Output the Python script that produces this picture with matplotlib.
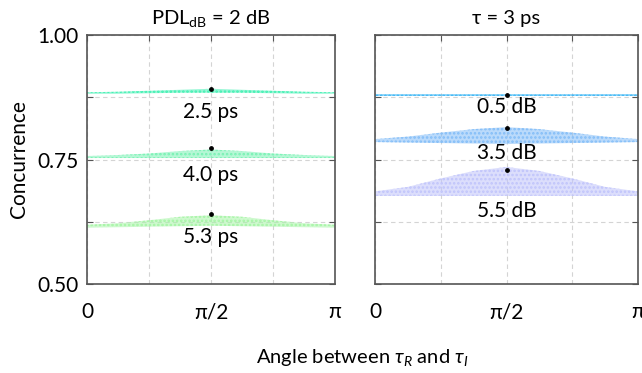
import numpy as np
import matplotlib
matplotlib.use('Agg')
import matplotlib.pyplot as plt

plt.rcParams['font.family'] = ['Lato', 'DejaVu Sans']
plt.rcParams['mathtext.fontset'] = 'custom'
plt.rcParams['mathtext.rm'] = 'Lato'
plt.rcParams['mathtext.it'] = 'Lato:italic'
plt.rcParams['hatch.linewidth'] = 1.2

# angle samples (0 .. pi in steps of pi/8)
angles = np.array([0, 1, 2, 3, 4, 5, 6, 7, 8]) * np.pi / 8

# left panel: PDL = 2 dB, different tau
tau_labels = ['2.5 ps', '4.0 ps', '5.3 ps']
tau_upper = [
    [0.885, 0.886, 0.888, 0.890, 0.892, 0.890, 0.888, 0.886, 0.885],
    [0.757, 0.759, 0.762, 0.767, 0.770, 0.767, 0.762, 0.759, 0.757],
    [0.619, 0.622, 0.628, 0.635, 0.638, 0.635, 0.628, 0.622, 0.619],
]
tau_lower = [
    [0.882, 0.882, 0.883, 0.884, 0.884, 0.884, 0.883, 0.882, 0.882],
    [0.753, 0.753, 0.753, 0.753, 0.753, 0.753, 0.753, 0.753, 0.753],
    [0.613, 0.614, 0.615, 0.616, 0.617, 0.616, 0.615, 0.614, 0.613],
]
tau_peak = [0.892, 0.773, 0.640]
tau_label_y = [0.845, 0.719, 0.594]
tau_colors = ['#3ff0b2', '#78f2b4', '#a6f5a6']

# right panel: tau = 3 ps, different PDL
pdl_labels = ['0.5 dB', '3.5 dB', '5.5 dB']
pdl_upper = [
    [0.8815, 0.8815, 0.8815, 0.8815, 0.8815, 0.8815, 0.8815, 0.8815, 0.8815],
    [0.791, 0.796, 0.804, 0.811, 0.815, 0.811, 0.804, 0.796, 0.791],
    [0.686, 0.695, 0.712, 0.727, 0.735, 0.727, 0.712, 0.695, 0.686],
]
pdl_lower = [
    [0.8785, 0.8785, 0.8785, 0.8785, 0.8785, 0.8785, 0.8785, 0.8785, 0.8785],
    [0.785, 0.784, 0.783, 0.782, 0.781, 0.782, 0.783, 0.784, 0.785],
    [0.677, 0.677, 0.677, 0.677, 0.677, 0.677, 0.677, 0.677, 0.677],
]
pdl_peak = [0.880, 0.813, 0.729]
pdl_label_y = [0.855, 0.763, 0.646]
pdl_colors = ['#3db6f5', '#82bdf8', '#c0c4fb']

fig = plt.figure(figsize=(6.42, 3.73), dpi=100)
ax1 = fig.add_axes([87/642, 1-284/373, 248/642, 249/373])
ax2 = fig.add_axes([375/642, 1-284/373, 263/642, 249/373])


def draw_panel(ax, upper, lower, peak, labels, label_y, colors, title):
	for i in range(len(upper)):
		ax.fill_between(angles, lower[i], upper[i], facecolor=colors[i], alpha=0.55,
						linewidth=0, zorder=2)
		ax.fill_between(angles, lower[i], upper[i], facecolor='none', edgecolor=colors[i],
						hatch='....', linewidth=0, zorder=2)
		ax.scatter([np.pi/2], [peak[i]], s=6, c='black', zorder=4)
		ax.text(np.pi/2, label_y[i], labels[i], ha='center', va='center', fontsize=15, zorder=5)
	ax.set_xlim(0, np.pi)
	ax.set_ylim(0.5, 1.0)
	ax.set_xticks([0, np.pi/4, np.pi/2, 3*np.pi/4, np.pi])
	ax.set_xticklabels(['0', '', 'π/2', '', 'π'], fontsize=15)
	ax.set_yticks([0.5, 0.625, 0.75, 0.875, 1.0])
	ax.tick_params(direction='in', length=4, top=True, right=True, bottom=False,
				   color='#555555', pad=6)
	ax.tick_params(axis='x', pad=13)
	ax.grid(True, linestyle=(0, (4, 3)), color='#d4d4d4', linewidth=0.8, zorder=0)
	for s in ax.spines.values():
		s.set_color('#555555')
		s.set_linewidth(1.2)
	ax.set_title(title, fontsize=14.5, pad=8)


draw_panel(ax1, tau_upper, tau_lower, tau_peak, tau_labels, tau_label_y, tau_colors,
		   'PDL$_{\\mathrm{dB}}$ = 2 dB')
draw_panel(ax2, pdl_upper, pdl_lower, pdl_peak, pdl_labels, pdl_label_y, pdl_colors,
		   'τ = 3 ps')

ax1.set_yticklabels(['0.50', '', '0.75', '', '1.00'], fontsize=15)
ax2.set_yticklabels([])
ax1.set_ylabel('Concurrence', fontsize=15, labelpad=6)
fig.text(362/642, 1-357/373, 'Angle between $τ_R$ and $τ_I$', ha='center', va='center',
		 fontsize=14.5)

fig.savefig('out.png', dpi=100)
